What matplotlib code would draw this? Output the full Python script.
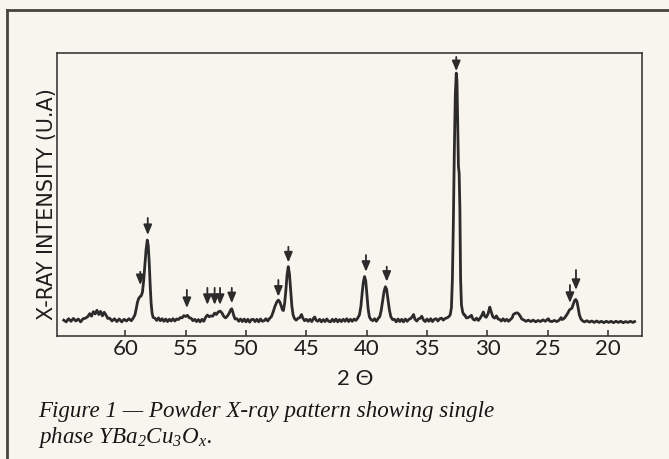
import matplotlib
matplotlib.use('Agg')
import matplotlib.pyplot as plt
from matplotlib.lines import Line2D

# ---- data (2-theta in degrees, intensity in arbitrary units) ----
two_theta = [65.1, 64.9, 64.7, 64.5, 64.3, 64.1, 63.9, 63.7, 63.5, 63.3,
             63.1, 62.95, 62.8, 62.65, 62.5, 62.35, 62.2, 62.05, 61.9, 61.75,
             61.6, 61.45, 61.3, 61.1, 60.9, 60.7, 60.5, 60.3, 60.1, 59.9,
             59.7, 59.5, 59.35, 59.2, 59.1, 59.0, 58.9, 58.78, 58.68, 58.58,
             58.48, 58.38, 58.28, 58.18, 58.1, 58.02, 57.94, 57.86, 57.78, 57.7,
             57.55, 57.4, 57.25, 57.1, 56.95, 56.8, 56.65, 56.5, 56.35, 56.2,
             56.05, 55.9, 55.75, 55.6, 55.45, 55.3, 55.15, 55.0, 54.85, 54.7,
             54.55, 54.4, 54.25, 54.1, 53.95, 53.8, 53.65, 53.5, 53.35, 53.2,
             53.05, 52.9, 52.75, 52.6, 52.45, 52.3, 52.15, 52.0, 51.85, 51.7,
             51.55, 51.4, 51.25, 51.18, 51.1, 51.0, 50.9, 50.75, 50.6, 50.45,
             50.3, 50.15, 50.0, 49.85, 49.7, 49.55, 49.4, 49.25, 49.1, 48.95,
             48.8, 48.65, 48.5, 48.35, 48.2, 48.05, 47.9, 47.75, 47.6, 47.45,
             47.32, 47.2, 47.08, 46.98, 46.9, 46.8, 46.7, 46.6, 46.5, 46.4,
             46.3, 46.2, 46.1, 46.0, 45.85, 45.7, 45.55, 45.4, 45.3, 45.15,
             45.0, 44.85, 44.7, 44.55, 44.4, 44.3, 44.2, 44.05, 43.9, 43.75,
             43.6, 43.45, 43.3, 43.15, 43.0, 42.85, 42.7, 42.55, 42.4, 42.25,
             42.1, 41.95, 41.8, 41.65, 41.5, 41.35, 41.2, 41.05, 40.9, 40.75,
             40.6, 40.48, 40.38, 40.28, 40.18, 40.08, 39.98, 39.88, 39.78, 39.65,
             39.5, 39.35, 39.2, 39.05, 38.92, 38.8, 38.68, 38.56, 38.45, 38.35,
             38.24, 38.12, 38.0, 37.85, 37.7, 37.55, 37.4, 37.25, 37.1, 36.95,
             36.8, 36.65, 36.5, 36.35, 36.2, 36.12, 36.0, 35.85, 35.7, 35.55,
             35.44, 35.3, 35.15, 35.0, 34.85, 34.7, 34.55, 34.4, 34.25, 34.1,
             33.95, 33.8, 33.65, 33.5, 33.35, 33.2, 33.08, 32.98, 32.9, 32.82,
             32.74, 32.66, 32.58, 32.52, 32.46, 32.4, 32.34, 32.28, 32.22, 32.15,
             32.05, 31.95, 31.86, 31.75, 31.6, 31.45, 31.32, 31.2, 31.05, 30.9,
             30.75, 30.6, 30.45, 30.34, 30.22, 30.1, 29.95, 29.8, 29.68, 29.55,
             29.4, 29.25, 29.12, 29.0, 28.85, 28.7, 28.55, 28.4, 28.25, 28.1,
             27.95, 27.85, 27.7, 27.55, 27.4, 27.28, 27.15, 27.0, 26.8, 26.6,
             26.4, 26.2, 26.0, 25.8, 25.6, 25.4, 25.2, 25.05, 24.95, 24.85,
             24.65, 24.45, 24.25, 24.05, 23.9, 23.8, 23.65, 23.5, 23.35, 23.2,
             23.12, 23.0, 22.9, 22.78, 22.68, 22.58, 22.48, 22.38, 22.25, 22.1,
             21.95, 21.75, 21.55, 21.35, 21.15, 20.95, 20.75, 20.55, 20.35, 20.15,
             19.95, 19.75, 19.55, 19.35, 19.15, 18.95, 18.75, 18.55, 18.35, 18.15,
             17.95, 17.8]

intensity = [5.6, 5.0, 6.1, 5.2, 6.2, 5.3, 6.0, 5.0, 6.1, 6.3,
             6.9, 7.9, 7.0, 8.6, 7.8, 9.1, 7.6, 8.7, 7.1, 8.4,
             7.4, 6.2, 6.3, 5.3, 6.1, 5.1, 6.0, 5.0, 5.9, 5.3,
             6.1, 5.4, 6.3, 7.5, 9.5, 11.8, 13.2, 13.9, 14.2, 15.5,
             19.5, 25.0, 30.5, 33.9, 32.0, 26.0, 18.0, 11.5, 8.0, 6.6,
             6.3, 5.5, 6.4, 5.4, 6.1, 5.2, 6.0, 5.1, 5.9, 5.3,
             6.1, 5.3, 6.0, 5.8, 6.5, 6.4, 7.2, 6.9, 7.3, 6.4,
             6.3, 5.4, 5.9, 5.1, 5.8, 5.0, 5.9, 5.2, 6.6, 7.4,
             6.8, 7.1, 7.0, 8.1, 7.6, 8.5, 8.8, 8.2, 7.0, 6.4,
             7.0, 8.0, 9.4, 9.6, 8.6, 7.0, 6.0, 6.1, 5.2, 6.0,
             5.1, 6.0, 5.0, 5.9, 4.9, 5.8, 5.9, 5.1, 5.9, 5.0,
             6.0, 5.2, 5.4, 6.1, 5.3, 6.2, 6.8, 8.5, 10.5, 12.0,
             12.7, 12.0, 10.6, 9.2, 9.0, 11.5, 16.0, 21.5, 24.5, 22.0,
             16.0, 10.5, 7.5, 6.3, 5.6, 6.2, 6.5, 7.6, 6.4, 5.4,
             5.9, 5.2, 5.9, 5.1, 6.3, 6.7, 5.6, 5.2, 5.9, 5.0,
             5.8, 5.1, 6.0, 5.2, 5.0, 5.9, 5.1, 6.0, 5.0, 5.8,
             5.1, 5.9, 5.2, 6.1, 5.1, 5.9, 5.2, 6.0, 5.5, 6.3,
             7.5, 10.5, 15.0, 19.0, 21.0, 19.5, 14.5, 9.5, 6.8, 5.8,
             5.4, 6.1, 5.2, 6.2, 6.8, 9.0, 12.5, 15.8, 17.4, 16.5,
             13.0, 9.2, 6.8, 5.8, 5.9, 5.0, 6.0, 5.1, 5.9, 5.0,
             6.0, 5.2, 5.9, 6.2, 7.0, 7.6, 5.9, 5.3, 6.1, 6.3,
             7.0, 5.7, 5.1, 6.0, 5.2, 6.1, 5.1, 5.9, 6.1, 5.3,
             6.1, 6.3, 5.6, 6.2, 6.4, 6.8, 7.5, 10.0, 20.0, 40.0,
             65.0, 85.0, 92.9, 90.0, 75.0, 60.0, 57.5, 45.0, 20.0, 11.0,
             8.5, 7.5, 7.4, 6.4, 6.5, 6.9, 7.3, 6.0, 5.6, 6.3,
             5.5, 6.3, 7.4, 8.5, 7.0, 6.6, 7.8, 10.2, 8.5, 6.8,
             6.3, 7.1, 6.0, 5.9, 5.3, 6.1, 5.3, 5.9, 5.2, 5.8,
             6.4, 7.6, 8.0, 8.2, 7.8, 7.0, 6.0, 5.7, 5.2, 5.6,
             5.1, 5.6, 5.0, 5.5, 5.1, 5.7, 5.2, 5.8, 6.1, 5.3,
             5.1, 5.5, 5.1, 5.6, 6.5, 5.8, 6.2, 7.0, 8.0, 9.2,
             9.5, 9.8, 11.0, 12.5, 12.9, 12.2, 10.0, 7.5, 6.0, 5.3,
             5.0, 5.4, 4.9, 5.3, 4.8, 5.3, 4.8, 5.2, 4.7, 5.2,
             4.8, 5.2, 4.7, 5.2, 4.8, 5.2, 4.7, 5.1, 4.8, 5.2,
             4.8, 5.1]

# marker arrows above the indexed reflections
arrow_pos = [58.76, 58.14, 54.9, 53.2, 52.6, 52.15, 51.18, 47.32, 46.49,
             40.06, 38.34, 32.58, 23.16, 22.66]
arrow_tip = [18.0, 35.7, 9.9, 11.0, 11.0, 11.0, 11.6, 13.9, 26.0,
             22.7, 19.2, 93.6, 11.7, 16.3]
arrow_tail = [22.7, 41.7, 16.3, 17.0, 17.0, 17.0, 17.0, 19.8, 31.5,
              28.6, 24.5, 98.6, 18.0, 23.3]

tick_values = [60, 55, 50, 45, 40, 35, 30, 25, 20]
tick_labels = ['60', '55', '50', '45', '40', '35', '30', '25', '20']

x_label = '2 \u0398'
y_label = 'X-RAY INTENSITY (U.A)'
caption_1 = 'Figure 1 \u2014 Powder X-ray pattern showing single'
caption_2 = r'phase YBa$_{\mathit{2}}$Cu$_{\mathit{3}}$O$_{\mathit{x}}$.'

# ---- styling ----
W, H = 669, 459
bg = '#f7f5ee'
ink = '#2b2b2b'
plt.rcParams['mathtext.fontset'] = 'custom'
plt.rcParams['mathtext.rm'] = 'Liberation Serif:italic'
plt.rcParams['mathtext.it'] = 'Liberation Serif:italic'
plt.rcParams['mathtext.bf'] = 'Liberation Serif:italic:bold'

fig = plt.figure(figsize=(W / 100, H / 100), dpi=100)
fig.patch.set_facecolor(bg)

left, right, top, bottom = 57, 642, 53, 336
ax = fig.add_axes([left / W, 1 - bottom / H, (right - left) / W, (bottom - top) / H])
ax.set_facecolor(bg)

ax.plot(two_theta, intensity, color=ink, lw=2.0, solid_joinstyle='round')

for p, t, s in zip(arrow_pos, arrow_tip, arrow_tail):
    ax.annotate('', xy=(p, t), xytext=(p, s),
                arrowprops=dict(arrowstyle='-|>,head_length=0.6,head_width=0.25',
                                lw=1.3, color=ink, shrinkA=0, shrinkB=0,
                                mutation_scale=10))

ax.set_xlim(65.66, 17.19)
ax.set_ylim(0, 100)
ax.set_xticks(tick_values)
ax.set_xticklabels(tick_labels)
ax.set_yticks([])
ax.tick_params(axis='x', direction='in', length=4.5, width=1.1, color=ink,
               pad=2, labelsize=16, labelcolor='#1e1e1e')
for lab in ax.get_xticklabels():
    lab.set_family('Lato')
for sp in ax.spines.values():
    sp.set_color('#3a3a3a')
    sp.set_linewidth(1.2)

# outer frame (page rule)
fig.add_artist(Line2D([7 / W, 1.0], [1 - 10 / H, 1 - 10 / H], color='#45453d', lw=2.0))
fig.add_artist(Line2D([7 / W, 7 / W], [1 - 10 / H, 0.0], color='#45453d', lw=2.0))

renderer = fig.canvas.get_renderer()

def fit(txt, target, vertical=False):
    bb = txt.get_window_extent(renderer)
    size = bb.height if vertical else bb.width
    txt.set_fontsize(txt.get_fontsize() * target / size)

yl = fig.text(47 / W, 1 - 204 / H, y_label, rotation=90, ha='center', va='center',
              fontsize=12, color='#1e1e1e', family='DejaVu Sans')
fit(yl, 232, vertical=True)

xl = fig.text(355 / W, 1 - 379 / H, x_label, ha='center', va='center',
              fontsize=16, color='#1e1e1e', family='Lato')

c1 = fig.text(38 / W, 1 - 417 / H, caption_1, ha='left', va='baseline',
              fontsize=15, style='italic', family='Liberation Serif', color='#161616')
fit(c1, 457)
c2 = fig.text(38 / W, 1 - 443 / H, caption_2, ha='left', va='baseline',
              fontsize=c1.get_fontsize(), style='italic', family='Liberation Serif',
              color='#161616')

fig.savefig('out.png', dpi=100, facecolor=bg)
